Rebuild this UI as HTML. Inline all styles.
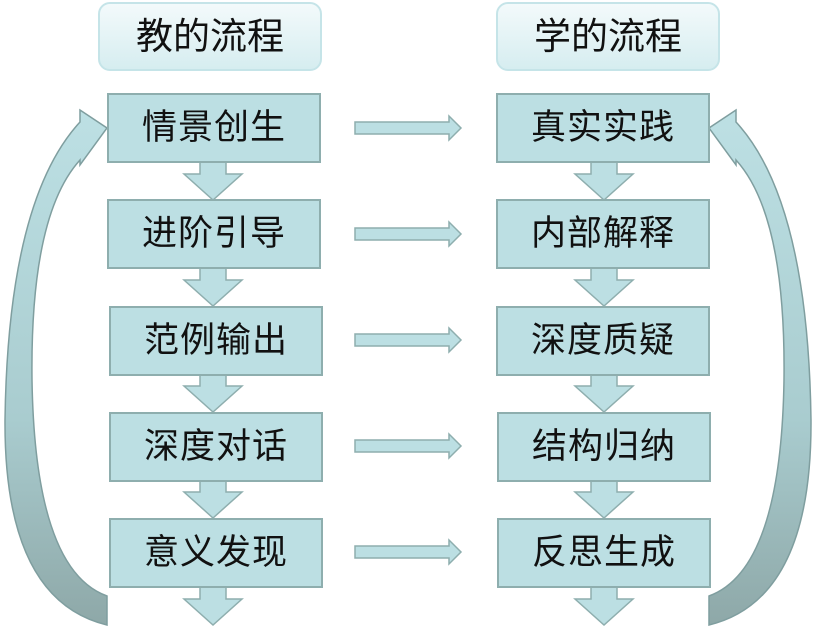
<!DOCTYPE html>
<html><head><meta charset="utf-8"><style>
body{margin:0;width:816px;height:628px;background:#fff;overflow:hidden;position:relative;font-family:"Liberation Sans","Noto Sans CJK SC",sans-serif}
.h{position:absolute;top:2px;width:224px;height:69px;border:2px solid #c5e4e8;border-radius:12px;background:linear-gradient(#f3fafb,#d6edf0);box-sizing:border-box;font-size:37px;line-height:66px;text-align:center;color:#111}
.b{position:absolute;width:214px;height:70px;background:#bcdfe3;border:2px solid #8eaeae;box-sizing:border-box;font-size:35px;line-height:66px;text-align:center;color:#111;letter-spacing:1px}
svg{position:absolute;left:0;top:0}
</style></head><body>
<svg width="816" height="628">
<defs>
<linearGradient id="g" x1="0" y1="0" x2="0" y2="1"><stop offset="0" stop-color="#bde0e4"/><stop offset="0.6" stop-color="#a9cccf"/><stop offset="1" stop-color="#8ea8a8"/></linearGradient>
<g id="d"><path d="M-13,0 L13,0 L13,12 L29,12 L0,38 L-29,12 L-13,12 Z" fill="#bcdfe3" stroke="#8eaeae" stroke-width="1.5"/></g>
<g id="r"><path d="M0,-6 L94,-6 L94,-12 L106,0 L94,12 L94,6 L0,6 Z" fill="#bcdfe3" stroke="#8eaeae" stroke-width="1.5"/></g>
</defs>
<use href="#d" x="213" y="162"/><use href="#d" x="213" y="268"/><use href="#d" x="213" y="374"/><use href="#d" x="213" y="480"/><use href="#d" x="213" y="587"/>
<use href="#d" x="604" y="162"/><use href="#d" x="604" y="268"/><use href="#d" x="604" y="374"/><use href="#d" x="604" y="480"/><use href="#d" x="604" y="587"/>
<use href="#r" x="355" y="128"/><use href="#r" x="355" y="234"/><use href="#r" x="355" y="340"/><use href="#r" x="355" y="446"/><use href="#r" x="355" y="552"/>
<path d="M107,625 L107,596 Q35,570 32,380 Q30,215 80,160 L80,165 L107,128 L80,110 L80,122 Q8,200 5,420 Q4,600 107,625 Z" fill="url(#g)" stroke="#7f9e9f" stroke-width="1.5"/>
<path d="M709,625 L709,596 Q781,570 784,380 Q786,215 736,160 L736,165 L709,128 L736,110 L736,122 Q808,200 811,420 Q812,600 709,625 Z" fill="url(#g)" stroke="#7f9e9f" stroke-width="1.5"/>
</svg>
<div class="h" style="left:98px">教的流程</div>
<div class="h" style="left:496px">学的流程</div>
<div class="b" style="left:107px;top:93px">情景创生</div>
<div class="b" style="left:107px;top:199px">进阶引导</div>
<div class="b" style="left:109px;top:306px">范例输出</div>
<div class="b" style="left:109px;top:412px">深度对话</div>
<div class="b" style="left:109px;top:518px">意义发现</div>
<div class="b" style="left:496px;top:93px">真实实践</div>
<div class="b" style="left:496px;top:199px">内部解释</div>
<div class="b" style="left:496px;top:306px">深度质疑</div>
<div class="b" style="left:497px;top:412px">结构归纳</div>
<div class="b" style="left:497px;top:518px">反思生成</div>
</body></html>
